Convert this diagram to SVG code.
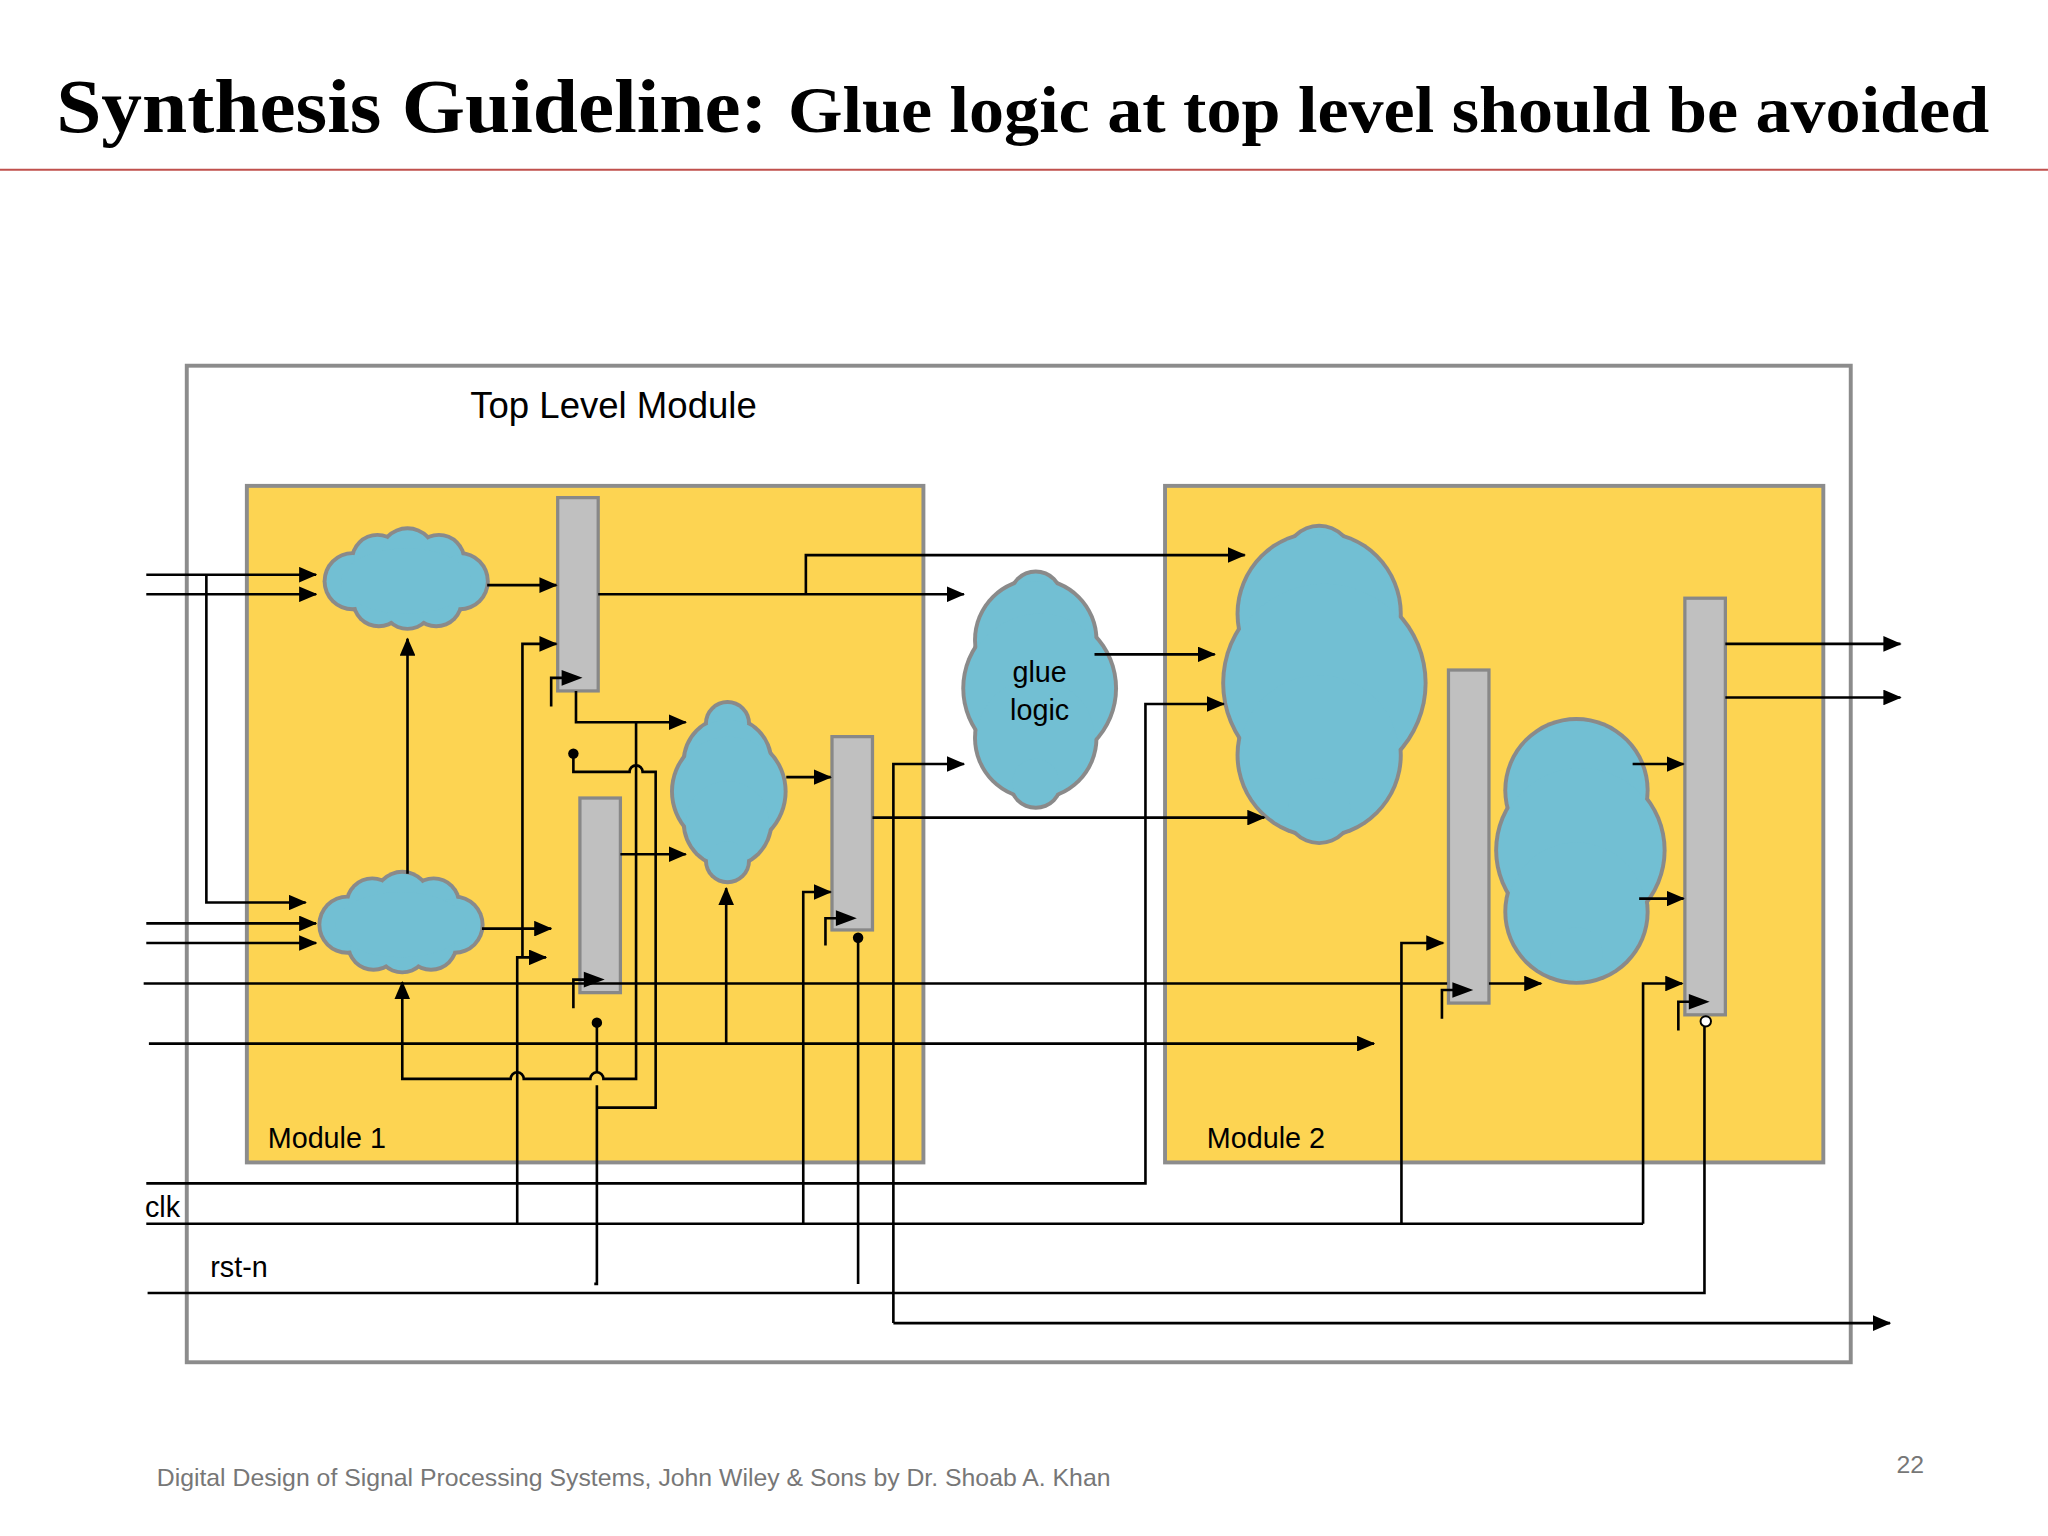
<svg xmlns="http://www.w3.org/2000/svg" width="2048" height="1536" viewBox="0 0 2048 1536">
<defs>
<marker id="ah" markerUnits="userSpaceOnUse" markerWidth="14" markerHeight="12" refX="13" refY="6" orient="auto"><path d="M0,0 L14,6 L0,12 z" fill="#000"/></marker>
<style>
.w{fill:none;stroke:#000;stroke-width:2}
.a{marker-end:url(#ah)}
.reg{fill:#c0c0c0;stroke:#888;stroke-width:2.5}
.mod{fill:#fdd452;stroke:#8c8c8c;stroke-width:3}
.cs{fill:#8a8a8a}
.cf{fill:#72bfd3}
.t{font-family:"Liberation Sans",Arial,sans-serif;fill:#000}
</style>
</defs>
<rect width="2048" height="1536" fill="#fff"/>
<g transform="scale(1.3061)">
<g id="title">
<text x="43" y="101" font-family="Liberation Serif,serif" font-weight="bold" font-size="58" textLength="1480" lengthAdjust="spacingAndGlyphs">Synthesis Guideline: <tspan font-size="50">Glue logic at top level should be avoided</tspan></text>
<line x1="0" y1="130" x2="1568" y2="130" stroke="#c0504d" stroke-width="1.5"/>
</g>
<g id="top"><rect x="143" y="280" width="1274" height="763" fill="none" stroke="#8c8c8c" stroke-width="3"/>
<text class="t" x="360" y="320" font-size="28">Top Level Module</text></g>
<g id="module1"><rect class="mod" x="189" y="372" width="518" height="518"/><text class="t" x="205" y="879" font-size="22">Module 1</text></g>
<g id="module2"><rect class="mod" x="892" y="372" width="504" height="518"/><text class="t" x="924" y="879" font-size="22">Module 2</text></g>

<g id="cloud1">
<g class="cs" transform="translate(0,0)"><circle cx="270" cy="445" r="23"/><circle cx="289" cy="429" r="21"/><circle cx="312" cy="426" r="23"/><circle cx="336" cy="429" r="21"/><circle cx="352" cy="445" r="23"/><circle cx="290" cy="460" r="21"/><circle cx="312" cy="462" r="21"/><circle cx="334" cy="460" r="21"/></g>
<g class="cf"><circle cx="270" cy="445" r="20"/><circle cx="289" cy="429" r="18"/><circle cx="312" cy="426" r="20"/><circle cx="336" cy="429" r="18"/><circle cx="352" cy="445" r="20"/><circle cx="290" cy="460" r="18"/><circle cx="312" cy="462" r="18"/><circle cx="334" cy="460" r="18"/><ellipse cx="311" cy="445" rx="50" ry="25"/></g>
</g>
<g id="cloud2" transform="translate(-4,263)">
<g class="cs"><circle cx="270" cy="445" r="23"/><circle cx="289" cy="429" r="21"/><circle cx="312" cy="426" r="23"/><circle cx="336" cy="429" r="21"/><circle cx="352" cy="445" r="23"/><circle cx="290" cy="460" r="21"/><circle cx="312" cy="462" r="21"/><circle cx="334" cy="460" r="21"/></g>
<g class="cf"><circle cx="270" cy="445" r="20"/><circle cx="289" cy="429" r="18"/><circle cx="312" cy="426" r="20"/><circle cx="336" cy="429" r="18"/><circle cx="352" cy="445" r="20"/><circle cx="290" cy="460" r="18"/><circle cx="312" cy="462" r="18"/><circle cx="334" cy="460" r="18"/><ellipse cx="311" cy="445" rx="50" ry="25"/></g>
</g>
<g id="cloud3">
<g class="cs"><circle cx="557" cy="554" r="18"/><circle cx="557" cy="583" r="35"/><circle cx="558" cy="606" r="45"/><circle cx="557" cy="630" r="35"/><circle cx="557" cy="659" r="18"/></g>
<g class="cf"><circle cx="557" cy="554" r="15"/><circle cx="557" cy="583" r="32"/><circle cx="558" cy="606" r="42"/><circle cx="557" cy="630" r="32"/><circle cx="557" cy="659" r="15"/></g>
</g>
<g id="glue">
<g class="cs"><circle cx="793" cy="457" r="21"/><circle cx="793" cy="490" r="48"/><circle cx="796" cy="527" r="60"/><circle cx="793" cy="565" r="48"/><circle cx="793" cy="599" r="21"/></g>
<g class="cf"><circle cx="793" cy="457" r="18"/><circle cx="793" cy="490" r="45"/><circle cx="796" cy="527" r="57"/><circle cx="793" cy="565" r="45"/><circle cx="793" cy="599" r="18"/></g>
<text class="t" x="796" y="522" font-size="22" text-anchor="middle">glue</text>
<text class="t" x="796" y="551" font-size="22" text-anchor="middle">logic</text>
</g>
<g id="cloud4">
<g class="cs"><circle cx="1010" cy="428" r="27"/><circle cx="1010" cy="470" r="64"/><circle cx="1014" cy="523" r="79"/><circle cx="1010" cy="578" r="64"/><circle cx="1010" cy="620" r="27"/></g>
<g class="cf"><circle cx="1010" cy="428" r="24"/><circle cx="1010" cy="470" r="61"/><circle cx="1014" cy="523" r="76"/><circle cx="1010" cy="578" r="61"/><circle cx="1010" cy="620" r="24"/></g>
</g>
<g id="cloud5">
<g class="cs"><circle cx="1207" cy="573" r="23"/><circle cx="1207" cy="605" r="56"/><circle cx="1210" cy="651" r="66"/><circle cx="1207" cy="698" r="56"/><circle cx="1207" cy="730" r="23"/></g>
<g class="cf"><circle cx="1207" cy="573" r="20"/><circle cx="1207" cy="605" r="53"/><circle cx="1210" cy="651" r="63"/><circle cx="1207" cy="698" r="53"/><circle cx="1207" cy="730" r="20"/></g>
</g>

<g id="reg1"><rect class="reg" x="427" y="381" width="31" height="148"/><path class="w" d="M422,541 V519 H432" stroke-width="1.5"/><path d="M430,513 L446,519 L430,525 z"/></g>
<g id="reg2"><rect class="reg" x="444" y="611" width="31" height="149"/><path class="w" d="M439,772 V750 H449" stroke-width="1.5"/><path d="M447,744 L463,750 L447,756 z"/></g>
<g id="reg3"><rect class="reg" x="637" y="564" width="31" height="148"/><path class="w" d="M632,724 V703 H642" stroke-width="1.5"/><path d="M640,697 L656,703 L640,709 z"/></g>
<g id="reg4"><rect class="reg" x="1109" y="513" width="31" height="255"/><path class="w" d="M1104,780 V758 H1114" stroke-width="1.5"/><path d="M1112,752 L1128,758 L1112,764 z"/></g>
<g id="reg5"><rect class="reg" x="1290" y="458" width="31" height="319"/><path class="w" d="M1285,789 V767 H1295" stroke-width="1.5"/><path d="M1293,761 L1309,767 L1293,773 z"/></g>

<g id="connectors">
<path class="w a" d="M112,440 H242"/>
<path class="w a" d="M112,455 H242"/>
<path class="w a" d="M158,440 V691 H234"/>
<path class="w a" d="M112,707 H242"/>
<path class="w a" d="M112,722 H242"/>
<path class="w a" d="M373,448 H426"/>
<path class="w a" d="M312,669 V489"/>
<path class="w a" d="M369,711 H422"/>
<path class="w a" d="M400,733 V493 H426"/>
<path class="w a" d="M396,937 V733 H418"/>
<path class="w a" d="M458,455 H738"/>
<path class="w a" d="M617,455 V425 H953"/>
<path class="w a" d="M441,529 V553 H525"/>
<path class="w a" d="M487,553 V826 H462 A5,5 0 0 0 452,826 H401 A5,5 0 0 0 391,826 H308 V752"/>
<circle cx="439" cy="577" r="4"/>
<path class="w" d="M439,577 V591 H482 A5,5 0 0 1 492,591 H502 V848 H457"/>
<circle cx="457" cy="783" r="4"/>
<path class="w" d="M457,783 V821 M457,831 V983 H455"/>
<path class="w a" d="M475,654 H525"/>
<path class="w a" d="M602,595 H636"/>
<path class="w a" d="M114,799 H1052"/>
<path class="w a" d="M556,799 V680"/>
<path class="w" d="M110,753 H1108"/>
<path class="w a" d="M1140,753 H1180"/>
<path class="w a" d="M615,937 V683 H636"/>
<circle cx="657" cy="718" r="4"/>
<path class="w" d="M657,718 V983"/>
<path class="w a" d="M668,626 H968"/>
<path class="w a" d="M684,1013 V585 H738"/>
<path class="w a" d="M684,1013 H1447"/>
<path class="w a" d="M838,501 H930"/>
<path class="w a" d="M112,906 H877 V539 H937"/>
<path class="w" d="M112,937 H1258"/>
<path class="w a" d="M1073,937 V722 H1105"/>
<path class="w a" d="M1258,937 V753 H1288"/>
<path class="w" d="M113,990 H1305 V786"/>
<circle cx="1306" cy="782" r="4" fill="#fff" stroke="#000" stroke-width="1.5"/>
<path class="w a" d="M1250,585 H1289"/>
<path class="w a" d="M1255,688 H1289"/>
<path class="w a" d="M1321,493 H1455"/>
<path class="w a" d="M1321,534 H1455"/>
</g>
<g id="labels">
<text class="t" x="111" y="932" font-size="22">clk</text>
<text class="t" x="161" y="978" font-size="22">rst-n</text>
<text class="t" x="120" y="1138" font-size="19" fill="#777" style="fill:#777">Digital Design of Signal Processing Systems, John Wiley &amp; Sons by Dr. Shoab A. Khan</text>
<text class="t" x="1452" y="1128" font-size="19" style="fill:#777">22</text>
</g>
</g>
</svg>
